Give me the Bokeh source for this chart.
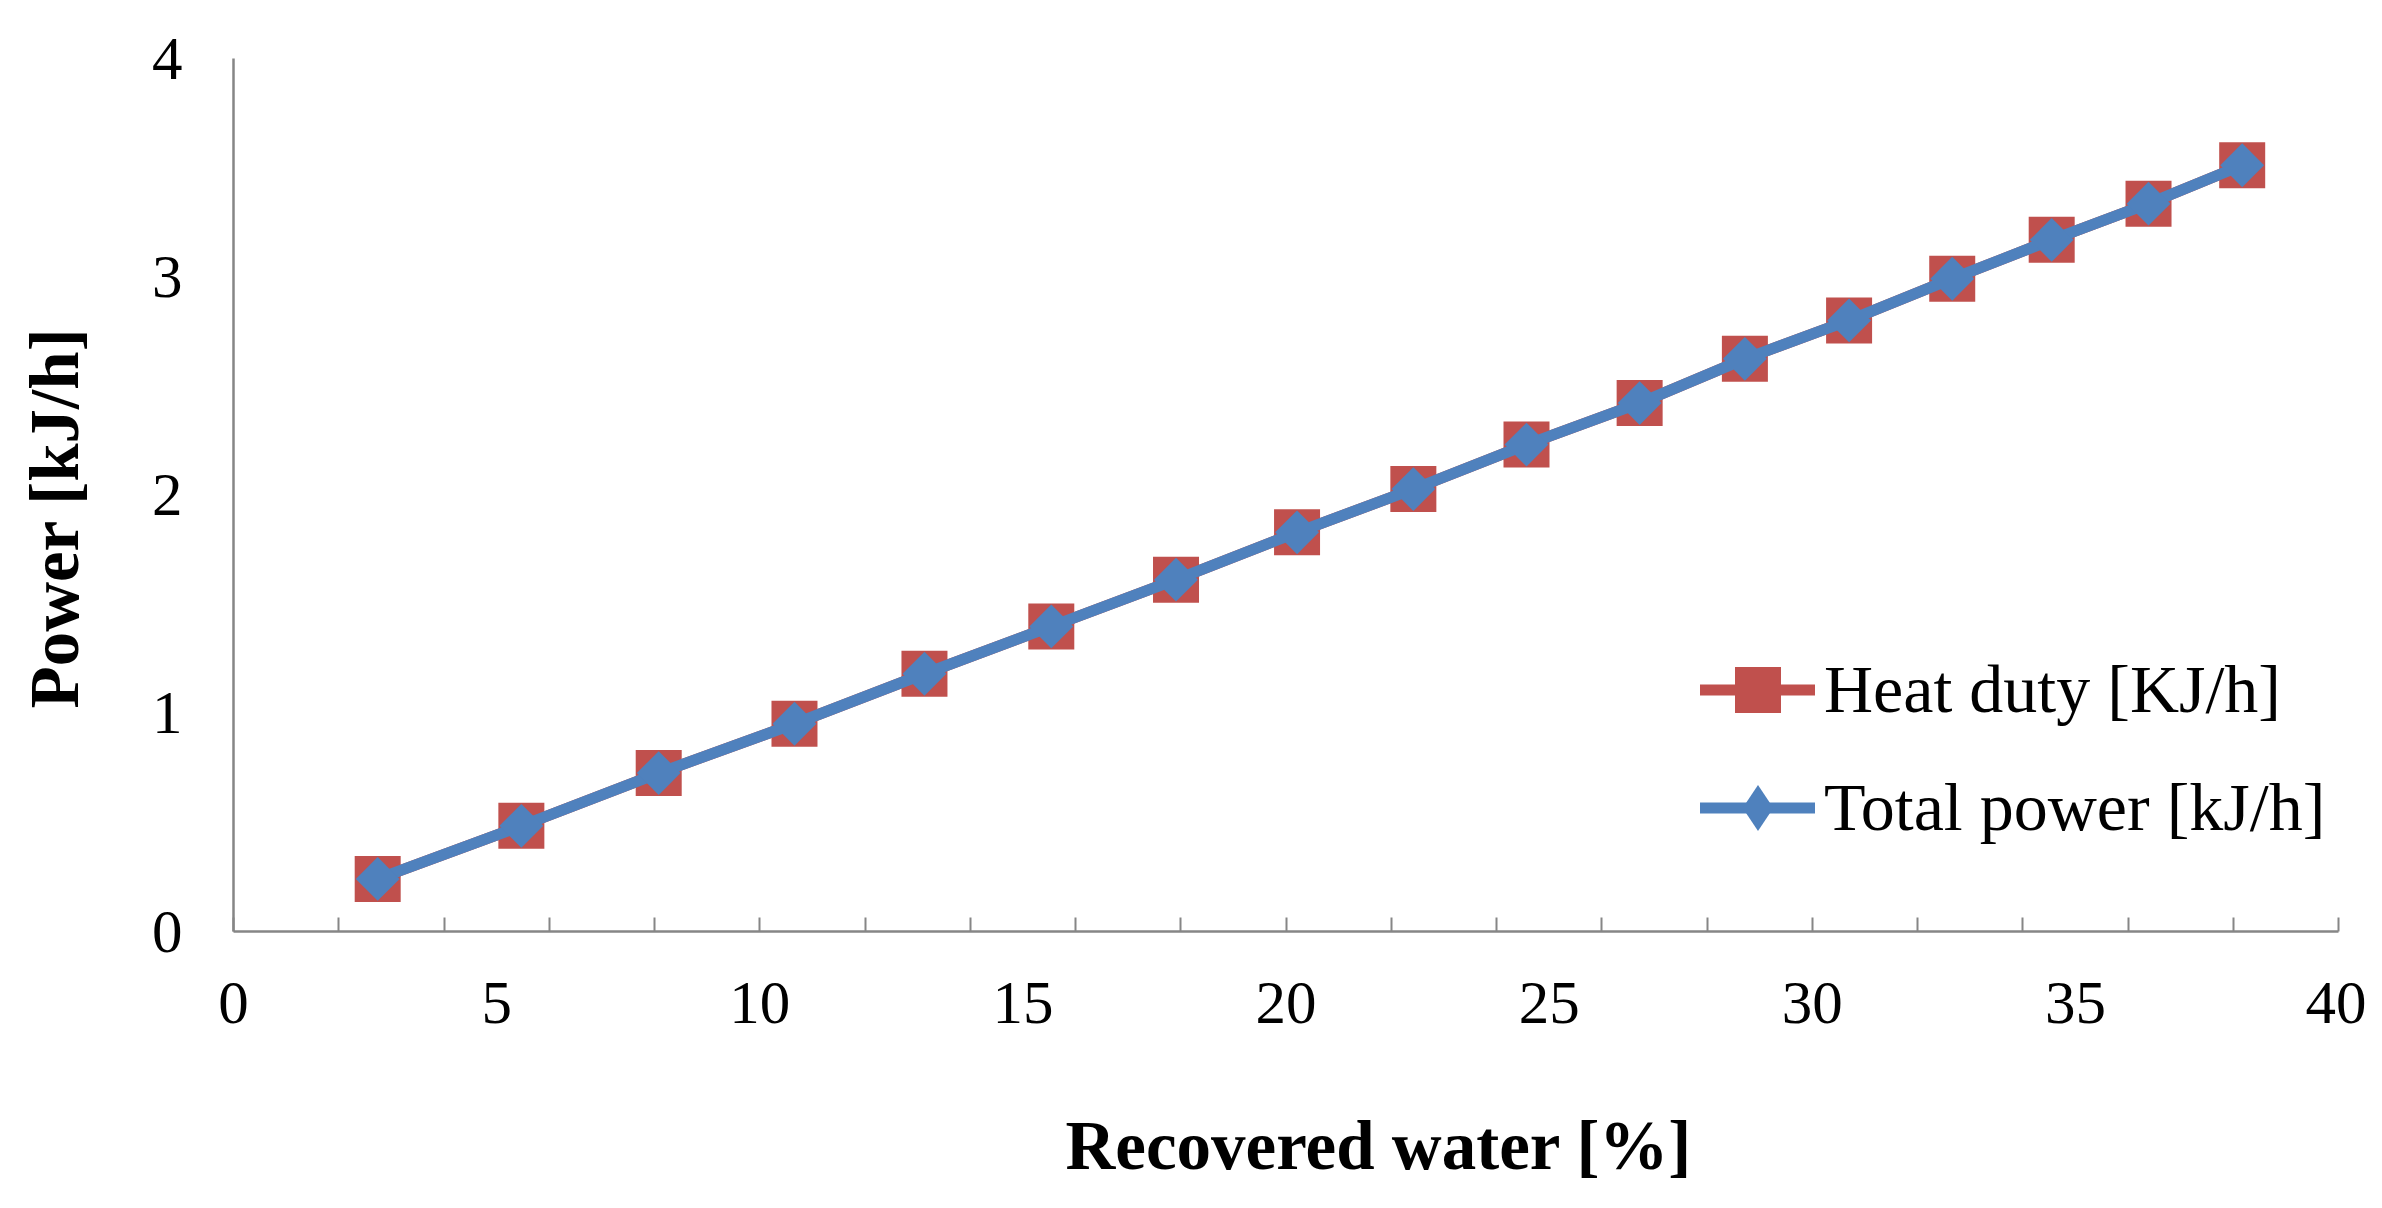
import math
from bokeh.plotting import figure
from bokeh.models import Range1d, FixedTicker, Legend, LegendItem, Title
from bokeh.embed import file_html
from bokeh.resources import INLINE

# ---- data ----
recovered_water = [2.74, 5.47, 8.08, 10.66, 13.13, 15.54, 17.91, 20.21, 22.42,
                   24.57, 26.72, 28.72, 30.70, 32.66, 34.55, 36.39, 38.17]
heat_duty = [0.241, 0.484, 0.726, 0.952, 1.181, 1.398, 1.612, 1.829, 2.027,
             2.231, 2.421, 2.624, 2.800, 2.991, 3.169, 3.335, 3.511]
total_power = [0.241, 0.484, 0.726, 0.952, 1.181, 1.398, 1.612, 1.829, 2.027,
               2.231, 2.421, 2.624, 2.800, 2.991, 3.169, 3.335, 3.511]

x_label_ticks = [0, 5, 10, 15, 20, 25, 30, 35, 40]
x_mark_ticks = [0, 2, 4, 6, 8, 10, 12, 14, 16, 18, 20, 22, 24, 26, 28, 30,
                32, 34, 36, 38, 40]
y_label_ticks = [0, 1, 2, 3, 4]

series_names = ["Heat duty [KJ/h]", "Total power [kJ/h]"]
x_title = "Recovered water [%]"
y_title = "Power [kJ/h]"

RED = "#C0504D"
BLUE = "#4F81BD"
AXIS = "#868686"
FONT = "Liberation Serif"

p = figure(width=2366, height=1192,
           x_range=Range1d(0, 40), y_range=Range1d(0, 4),
           output_backend="svg", toolbar_location=None,
           min_border_left=233, min_border_right=28,
           min_border_top=58, min_border_bottom=261)
p.grid.visible = False
p.outline_line_color = None
p.background_fill_color = "white"
p.border_fill_color = "white"

xa = p.xaxis[0]
xa.ticker = FixedTicker(ticks=x_label_ticks, minor_ticks=x_mark_ticks)
xa.major_tick_in = 0
xa.major_tick_out = 0
xa.minor_tick_in = 14
xa.minor_tick_out = 0
xa.minor_tick_line_color = AXIS
xa.minor_tick_line_width = 2
xa.axis_line_color = AXIS
xa.axis_line_width = 2.5
xa.major_label_text_font = FONT
xa.major_label_text_font_size = "61px"
xa.major_label_text_color = "black"
xa.major_label_standoff = 51

ya = p.yaxis[0]
ya.ticker = FixedTicker(ticks=y_label_ticks, minor_ticks=[])
ya.major_tick_in = 0
ya.major_tick_out = 0
ya.minor_tick_in = 0
ya.minor_tick_out = 0
ya.axis_line_color = AXIS
ya.axis_line_width = 2.5
ya.major_label_text_font = FONT
ya.major_label_text_font_size = "61px"
ya.major_label_text_color = "black"
ya.major_label_standoff = 51

red_line = p.line(recovered_water, heat_duty, line_color=RED, line_width=11,
                  line_cap="round", line_join="round")
red_sq = p.scatter(recovered_water, heat_duty, marker="square", size=46,
                   fill_color=RED, line_color=None)
blue_line = p.line(recovered_water, total_power, line_color=BLUE, line_width=11,
                   line_cap="round", line_join="round")
blue_dia = p.scatter(recovered_water, total_power, marker="square",
                     angle=math.pi / 4, size=31, fill_color=BLUE, line_color=None)
blue_dia_legend = p.scatter(recovered_water, total_power, marker="diamond",
                            size=0, fill_color=BLUE, line_color=None)

legend = Legend(items=[
    LegendItem(label=series_names[0], renderers=[red_line, red_sq]),
    LegendItem(label=series_names[1], renderers=[blue_line, blue_dia_legend]),
], location=(1467, 66), glyph_width=115, glyph_height=115, spacing=3,
    padding=0, margin=0, label_standoff=9, border_line_color=None,
    background_fill_alpha=0, label_text_font=FONT, label_text_font_size="68px",
    label_text_color="black")
p.add_layout(legend)

# Axis titles as side-panel titles; an empty line is used as spacer
p.add_layout(Title(text="\n" + x_title, align="left", offset=832,
                   vertical_align="top", standoff=0, text_line_height=1.09,
                   text_font=FONT, text_font_size="69px", text_font_style="bold",
                   text_color="black"), "below")
p.add_layout(Title(text=y_title + "\n", align="left", offset=223,
                   vertical_align="top", standoff=0, text_line_height=0.715,
                   text_font=FONT, text_font_size="69px", text_font_style="bold",
                   text_color="black"), "left")

open("out.html", "w").write(file_html(p, INLINE))
